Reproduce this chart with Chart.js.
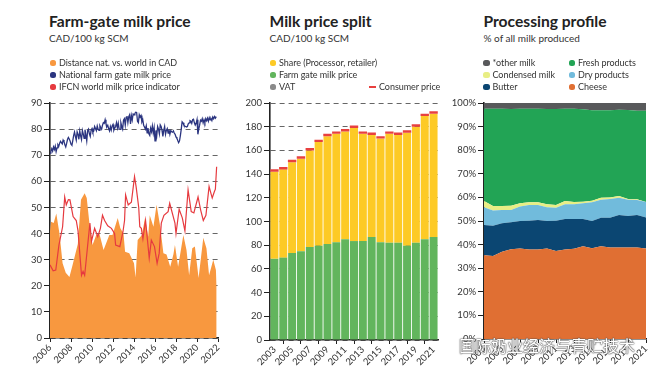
<!DOCTYPE html>
<html>
<head>
<meta charset="utf-8">
<script src="https://cdn.jsdelivr.net/npm/chart.js@4"></script>
<style>
  html, body { margin: 0; padding: 0; background: #fff; }
  body { position: relative; width: 656px; height: 375px; overflow: hidden; font-family: Lato, sans-serif; color: #333; }
  canvas { position: absolute; top: 90px; }
  .title { position: absolute; top: 11px; font-size: 15.6px; font-weight: 700; color: #222; line-height: 20px; white-space: nowrap; }
  .sub { position: absolute; top: 31px; font-size: 10px; line-height: 15px; white-space: nowrap; }
  .leg { position: absolute; font-size: 9px; line-height: 12px; white-space: nowrap; letter-spacing: -0.05px; }
  .dot { position: absolute; width: 6.5px; height: 6.5px; border-radius: 2.5px; }
  .dash { position: absolute; width: 7px; height: 2.5px; }
  #mark { position: absolute; left: 459px; top: 334px; font-family: "Noto Sans CJK SC", sans-serif; font-size: 16px; line-height: 22px; color: #fff; white-space: nowrap; text-shadow: 0 0 1px #444, 0 0 1px #444, 0 0 2px #666; }
</style>
</head>
<body>
<canvas id="priceChart" width="228" height="285" style="left:0"></canvas>
<canvas id="splitChart" width="220" height="285" style="left:228px"></canvas>
<canvas id="profileChart" width="208" height="285" style="left:448px"></canvas>
<div id="mark">国际奶业经济与青贮技术</div>

<script>
// farm-gate chart, national price is one value per month from Jan 2006
const nationalPrice = [
  70.8,71.5,72.5,71.6,73.2,72.2,73.5,71.4,72.8,74.0,73.4,74.6,
  75.3,74.8,74.3,75.8,75.2,74.0,73.2,74.5,76.0,76.8,76.2,75.4,
  74.2,73.8,75.5,77.5,78.9,77.2,75.8,79.0,78.0,76.1,79.3,77.4,
  76.0,79.5,78.2,76.5,79.8,77.8,75.5,79.4,80.0,78.2,77.2,79.6,
  80.2,78.8,79.3,81.0,80.2,79.4,81.2,80.0,79.5,81.3,80.6,80.0,
  81.5,82.5,82.2,83.6,82.0,80.9,81.5,80.2,79.3,81.0,79.6,81.2,
  81.8,79.6,80.4,81.0,82.5,80.5,82.3,80.0,79.9,82.4,81.0,80.0,
  83.4,84.0,81.5,84.5,85.0,82.5,84.8,85.5,82.0,85.2,83.5,85.8,
  85.5,86.0,86.5,86.4,83.0,82.5,85.5,84.6,85.2,82.8,83.6,81.5,
  80.8,80.0,81.3,78.6,80.4,78.2,77.6,80.3,79.0,81.2,78.5,80.6,
  75.5,79.5,77.5,81.0,80.0,78.2,81.6,81.0,79.5,77.2,79.5,81.0,
  78.0,79.5,80.2,78.5,79.8,78.0,79.4,79.0,78.8,79.3,78.5,78.0,
  77.0,76.5,75.6,74.8,75.5,77.5,80.0,82.8,82.4,81.5,81.2,81.0,
  80.8,81.0,82.0,82.4,83.2,83.0,82.2,83.6,83.8,82.4,81.5,82.2,
  83.6,78.0,80.0,81.5,83.4,83.0,84.0,82.4,83.6,82.5,84.0,83.2,
  84.2,83.0,84.4,83.5,84.0,83.3,84.6,84.0,84.8,84.2,84.8
];
const ifcnYears = [
  2006,2006.3,2006.55,2006.85,2007.2,2007.4,2007.55,2007.75,2007.9,2008.2,2008.5,2008.67,2009,2009.15,2009.3,2009.5,
  2009.8,2009.95,2010.25,2010.55,2010.8,2011,2011.2,2011.5,2011.85,2012.15,2012.25,2012.65,2012.95,2013.1,2013.2,
  2013.45,2013.75,2014.05,2014.2,2014.45,2014.55,2014.7,2014.85,2015.1,2015.45,2015.65,2015.95,2016.2,2016.4,2016.6,
  2016.85,2017.25,2017.4,2017.9,2018,2018.3,2018.6,2018.85,2019.15,2019.45,2019.7,2020.1,2020.35,2020.6,2020.85,
  2021.15,2021.45,2021.65,2021.75,2021.87
];
const ifcnValues = [
  28,25.7,26,35.6,42.6,54,51,53,52.9,46.5,45,41,24,25.5,24,32,
  44,37,42,38.8,42,47,45,43,42,40,35.6,35,40.7,45,54.8,
  51,52,61.8,58,50,42.6,42,38,45,30.6,37.5,35,28.6,32.5,44,
  47,48.4,51.6,44,40,49.3,46,41,56.7,48.4,47.9,54,49,45,47,
  58,53.6,56,57,65.6
];
const distanceYears = [
  2006,2006.1,2006.35,2006.6,2006.9,2007.2,2007.5,2007.85,2008.15,2008.65,2008.95,2009.3,2009.5,2009.75,2010.05,2010.4,
  2010.7,2011.1,2011.65,2011.95,2012.45,2012.7,2013,2013.15,2013.55,2014,2014.15,2014.35,2014.75,2015.05,2015.35,2015.5,
  2015.85,2016.15,2016.5,2016.8,2017.1,2017.45,2017.75,2017.9,2018.2,2018.7,2019,2019.25,2019.55,2019.8,2020.15,2020.6,
  2020.9,2021.15,2021.55,2021.8,2021.87
];
const distanceValues = [
  41,44.5,44,47.7,40,28.6,25,23.4,28,36,52.9,55.4,53.6,44,35.6,39.4,
  40,33.7,39.4,39.4,46,42,40,33,32.5,28.6,23.2,37.5,39.4,46,38.8,47,
  42.6,51,42.6,32.5,32,27.3,32,35.6,27.3,39.4,33.7,24,34.4,35,23,38.4,
  34.4,24,30,26,20
];

// price split chart
const splitYears = ['2003','2004','2005','2006','2007','2008','2009','2010','2011','2012','2013','2014','2015','2016','2017','2018','2019','2020','2021'];
const farmGate = [68.5,69.5,73.5,75,78.5,79.5,81,82.5,85,83.5,83.5,87,82.5,82,82,79.5,82,85,87];
const retailShare = [73.5,74.5,76.5,78,81.5,87.5,91,91.5,91,95.5,90.5,86,87.5,92,91,95.5,98,104,104];
const vat = [0,0,0,0,0,0,0,0,0,0,0,0,0,0,0,0,0,0,0];
const consumerPrice = [143,145,151,154,161,168,173,175,177,180,175,174,171,175,174,176,181,190,192];

// processing profile chart, shares of all milk in percent
const profileYears = splitYears;
const cheese = [35.5,35.2,37,38,38.4,37.9,37.9,38.4,37.3,37.9,38.2,39.3,38.5,39.3,38.8,38.8,38.8,38.8,38.4];
const butter = [12.8,12.8,12,11.5,11.6,12.2,12.5,11.6,12.8,13,12.7,11.6,11.5,12.1,12.6,13.7,13.3,13.7,13.1];
const dryProducts = [7.5,6.4,5.7,5.2,6.1,6.7,6.4,5.8,5.5,6.2,6.2,6.6,7.9,7.6,7.9,7.4,6.9,6.4,6.5];
const condensedMilk = [2.7,2,1.7,1.8,1.4,1.1,1.1,1.3,1.2,1.4,0.9,0.7,0.7,0.9,0.7,0.7,0.3,0.3,0];
const freshProducts = [39.1,41.2,41.2,41,40.1,39.7,39.7,40.4,40.7,39.1,39.6,39.2,38.3,37,36.9,36.5,37.7,37.5,38.7];
const otherMilk = [2.4,2.4,2.4,2.5,2.4,2.4,2.4,2.5,2.5,2.4,2.4,2.6,3.1,3.1,3.1,2.9,3,3.3,3.3];

const tickFont = { family: 'Lato, sans-serif', size: 9.5 };
const axisColor = '#222';

function monthlyPoints(values) {
  return values.map((v, i) => ({ x: 2006 + i / 12, y: v }));
}
function pairPoints(xs, ys) {
  return xs.map((x, i) => ({ x: x, y: ys[i] }));
}

function yAxis(max, step, width, suffix) {
  return {
    min: 0,
    max: max,
    afterFit: s => { s.width = width; },
    border: { color: axisColor, width: 1.6, dash: [5, 4] },
    grid: { color: '#666', lineWidth: 1, tickColor: axisColor, tickLength: 6, tickBorderDash: [] },
    ticks: { stepSize: step, color: '#333', font: tickFont, padding: 2,
      callback: v => v + (suffix || '') }
  };
}
function xGrid() {
  return { drawOnChartArea: false, tickColor: axisColor, tickLength: 4 };
}
const xTicks = { color: '#333', font: tickFont, minRotation: 45, maxRotation: 45, padding: 0, autoSkip: false };

// only every second year gets a tick on the category axes
function everySecondYear(scale) {
  scale.ticks = scale.ticks.filter((t, i) => i % 2 === 0);
}

new Chart(document.getElementById('priceChart'), {
  type: 'line',
  data: {
    datasets: [{
      label: 'IFCN world milk price indicator',
      data: pairPoints(ifcnYears, ifcnValues),
      borderColor: '#E63A3F',
      borderWidth: 1.2,
      pointRadius: 0,
      order: 1
    }, {
      label: 'National farm gate milk price',
      data: monthlyPoints(nationalPrice),
      borderColor: '#2B3580',
      borderWidth: 1.3,
      pointRadius: 0,
      order: 0
    }, {
      label: 'Distance nat. vs. world in CAD',
      data: pairPoints(distanceYears, distanceValues),
      borderWidth: 0,
      backgroundColor: '#F8983F',
      fill: 'origin',
      pointRadius: 0,
      order: 2
    }]
  },
  options: {
    responsive: false,
    animation: false,
    layout: { padding: { top: 13, right: 10 } },
    plugins: { legend: { display: false }, tooltip: { enabled: false } },
    scales: {
      x: {
        type: 'linear', min: 2006, max: 2022,
        afterFit: s => { s.height = 37; },
        border: { color: axisColor, width: 1.6 },
        grid: xGrid(),
        ticks: Object.assign({ stepSize: 2, callback: v => String(v) }, xTicks)
      },
      y: yAxis(90, 10, 50)
    }
  }
});

new Chart(document.getElementById('splitChart'), {
  type: 'bar',
  data: {
    labels: splitYears,
    datasets: [{
      type: 'line',
      label: 'Consumer price',
      data: consumerPrice,
      showLine: false,
      pointStyle: 'line',
      pointRadius: 4.2,
      pointBorderWidth: 2.4,
      pointBorderColor: '#E8403F',
      order: 0
    }, {
      label: 'Farm gate milk price',
      data: farmGate,
      backgroundColor: '#62B55D',
      stack: 'price',
      order: 1
    }, {
      label: 'Share (Processor, retailer)',
      data: retailShare,
      backgroundColor: '#FDCA26',
      stack: 'price',
      order: 1
    }, {
      label: 'VAT',
      data: vat,
      backgroundColor: '#8A8A8A',
      stack: 'price',
      order: 1
    }]
  },
  options: {
    responsive: false,
    animation: false,
    barPercentage: 1,
    categoryPercentage: 0.9,
    layout: { padding: { top: 13, right: 10 } },
    plugins: { legend: { display: false }, tooltip: { enabled: false } },
    scales: {
      x: {
        stacked: true,
        afterFit: s => { s.height = 35; },
        afterBuildTicks: everySecondYear,
        border: { color: axisColor, width: 1.6 },
        grid: xGrid(),
        ticks: xTicks
      },
      y: Object.assign(yAxis(200, 20, 42), { stacked: true })
    }
  }
});

function areaSet(label, values, color, fill) {
  return { label: label, data: values, backgroundColor: color, borderWidth: 0, pointRadius: 0, fill: fill };
}

new Chart(document.getElementById('profileChart'), {
  type: 'line',
  data: {
    labels: profileYears,
    datasets: [
      areaSet('Cheese', cheese, '#E06F33', 'origin'),
      areaSet('Butter', butter, '#0B4672', '-1'),
      areaSet('Dry products', dryProducts, '#71BBDC', '-1'),
      areaSet('Condensed milk', condensedMilk, '#E8EE85', '-1'),
      areaSet('Fresh products', freshProducts, '#22A455', '-1'),
      areaSet('*other milk', otherMilk, '#58595B', '-1')
    ]
  },
  options: {
    responsive: false,
    animation: false,
    layout: { padding: { top: 13, right: 10 } },
    plugins: { legend: { display: false }, tooltip: { enabled: false } },
    scales: {
      x: {
        offset: false,
        afterFit: s => { s.height = 36; },
        afterBuildTicks: everySecondYear,
        border: { color: axisColor, width: 1.6 },
        grid: xGrid(),
        ticks: xTicks
      },
      y: Object.assign(yAxis(100, 10, 36, '%'), { stacked: true, grid: { drawOnChartArea: false, tickColor: axisColor, tickLength: 6 } })
    }
  }
});

// titles and legends are plain text next to the canvases
const titles = [
  ['Farm-gate milk price', 'CAD/100 kg SCM', 49],
  ['Milk price split', 'CAD/100 kg SCM', 269.5],
  ['Processing profile', '% of all milk produced', 483.5]
];
const legendRows = [
  ['Distance nat. vs. world in CAD', '#F8983F', 49.5, 63],
  ['National farm gate milk price', '#2B3580', 49.5, 75],
  ['IFCN world milk price indicator', '#E63A3F', 49.5, 87],
  ['Share (Processor, retailer)', '#FDCA26', 269.5, 63],
  ['Farm gate milk price', '#62B55D', 269.5, 75],
  ['VAT', '#8A8A8A', 269.5, 87],
  ['*other milk', '#58595B', 483, 63],
  ['Condensed milk', '#E8EE85', 483, 75],
  ['Butter', '#0B4672', 483, 87],
  ['Fresh products', '#22A455', 568.5, 63],
  ['Dry products', '#71BBDC', 568.5, 75],
  ['Cheese', '#E06F33', 568.5, 87]
];

function addDiv(cls, text, left, top) {
  const d = document.createElement('div');
  d.className = cls;
  d.textContent = text;
  d.style.left = left + 'px';
  if (top !== undefined) d.style.top = top + 'px';
  document.body.appendChild(d);
  return d;
}
titles.forEach(t => {
  addDiv('title', t[0], t[2]);
  addDiv('sub', t[1], t[2]);
});
legendRows.forEach(r => {
  const dot = addDiv('dot', '', r[2], r[3] - 3.2);
  dot.style.background = r[1];
  addDiv('leg', r[0], r[2] + 9.5, r[3] - 6);
});
addDiv('dash', '', 369, 85.5).style.background = '#E8403F';
addDiv('leg', 'Consumer price', 379, 81);
</script>
</body>
</html>
